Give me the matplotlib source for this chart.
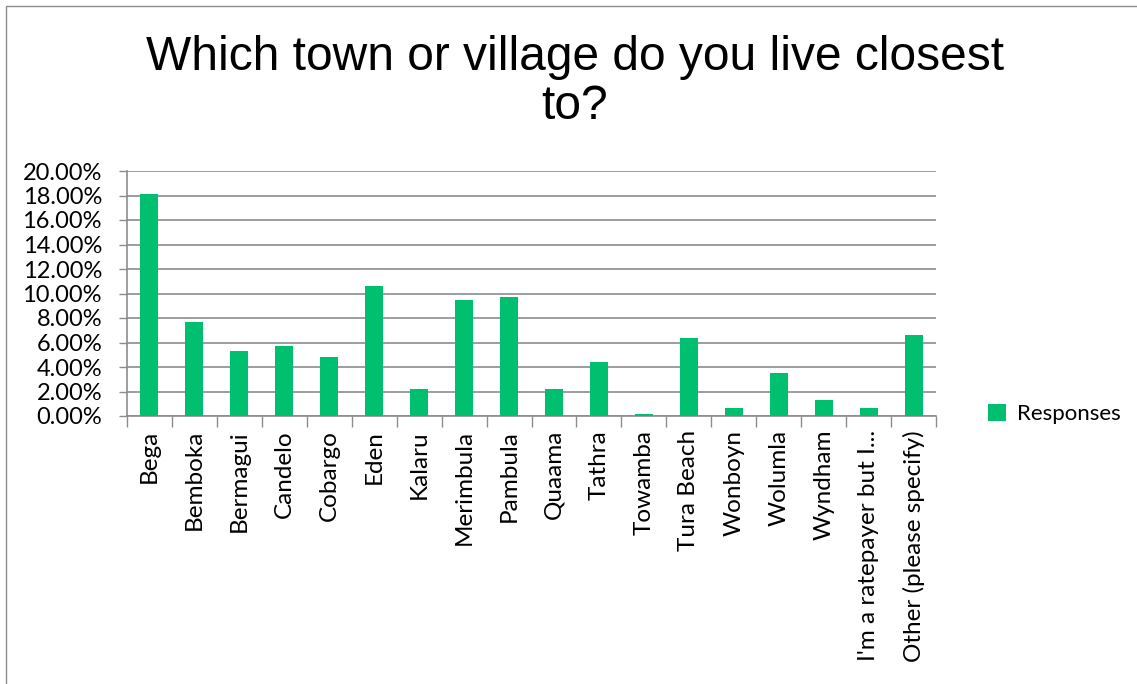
import matplotlib.pyplot as plt
from matplotlib.ticker import FuncFormatter, MultipleLocator
from matplotlib.patches import Rectangle

towns = ["Bega", "Bemboka", "Bermagui", "Candelo", "Cobargo", "Eden", "Kalaru",
         "Merimbula", "Pambula", "Quaama", "Tathra", "Towamba", "Tura Beach",
         "Wonboyn", "Wolumla", "Wyndham", "I'm a ratepayer but I...",
         "Other (please specify)"]
responses = [18.15, 7.69, 5.30, 5.73, 4.84, 10.62, 2.17, 9.45, 9.73, 2.17,
             4.40, 0.16, 6.38, 0.65, 3.53, 1.33, 0.65, 6.60]

green = "#00BF6F"
grid_col = "#8C8C8C"

fig = plt.figure(figsize=(11.37, 6.84), dpi=100)
ax = fig.add_axes([127/1137, 1 - 416/684, (936-127)/1137, (416-171)/684])

x = range(len(towns))
ax.bar(x, responses, width=0.4, color=green, label="Responses", zorder=3)

ax.set_xlim(-0.5, len(towns) - 0.5)
ax.set_ylim(0, 20)
ax.yaxis.set_major_locator(MultipleLocator(2))
ax.yaxis.set_major_formatter(FuncFormatter(lambda v, p: f"{v:.2f}%"))
ax.grid(axis="y", color=grid_col, linewidth=1.2, zorder=0)

ax.set_xticks([i - 0.5 for i in range(len(towns) + 1)], minor=False)
ax.set_xticklabels([])
ax.set_xticks(list(x), minor=True)
ax.set_xticklabels(towns, minor=True, rotation=90, fontsize=17.5,
                   family="Lato", va="top")
ax.tick_params(axis="x", which="minor", length=0, pad=10)
ax.tick_params(axis="x", which="major", length=8, color=grid_col, width=1)
ax.tick_params(axis="y", length=6, color=grid_col, width=1, labelsize=17,
               pad=12)
for lbl in ax.get_yticklabels():
    lbl.set_family("Lato")

for s in ["top", "right"]:
    ax.spines[s].set_visible(False)
for s in ["left", "bottom"]:
    ax.spines[s].set_color(grid_col)
    ax.spines[s].set_linewidth(1.2)

fig.text(575/1137, 1 - 82/684, "Which town or village do you live closest\nto?",
         ha="center", va="center", fontsize=34.5, family="Liberation Sans",
         linespacing=1.12)

leg = fig.legend(loc="center left", bbox_to_anchor=(968/1137, 1 - 414/684),
                 frameon=False, prop={"family": "Lato", "size": 16},
                 handlelength=0.8, handleheight=0.8, handletextpad=0.5)

fig.patches.append(Rectangle((6/1137, -0.01), 1.2, 1 - 6/684 + 0.01,
                             transform=fig.transFigure, fill=False,
                             edgecolor="#8C8C8C", linewidth=1))

fig.savefig("out.png", dpi=100)
